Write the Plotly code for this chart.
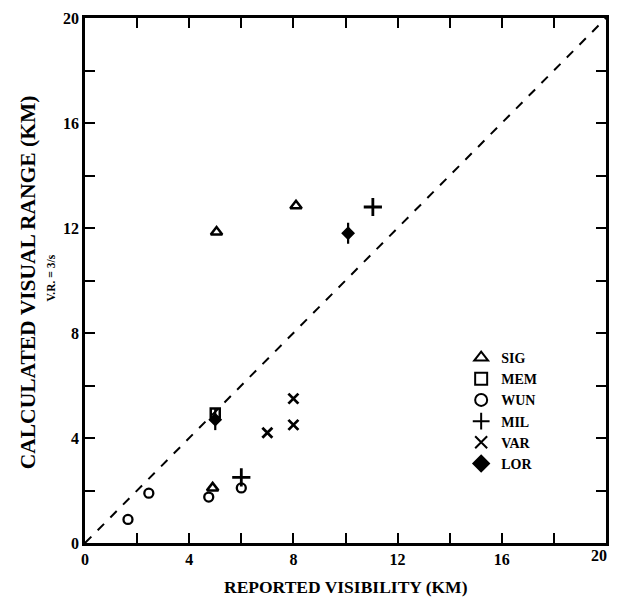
import plotly.graph_objects as go

# Data (reported visibility km, calculated visual range km)
sig_x = [5.05, 8.1, 4.9]
sig_y = [11.85, 12.85, 2.1]
mem_x = [5.0]
mem_y = [4.95]
wun_x = [1.65, 2.45, 4.75, 6.0]
wun_y = [0.9, 1.9, 1.75, 2.1]
mil_x = [11.05, 6.0]
mil_y = [12.8, 2.5]
var_x = [8.0, 8.0, 7.0]
var_y = [5.5, 4.5, 4.2]
lor_x = [10.1, 5.0]
lor_y = [11.8, 4.7]

ref_line = [0, 20]
tick_vals = [0, 2, 4, 6, 8, 10, 12, 14, 16, 18, 20]
tick_text = ["0", "", "4", "", "8", "", "12", "", "16", "", "20"]

serif = "Liberation Serif"
fig = go.Figure()

fig.add_trace(go.Scatter(x=ref_line, y=ref_line, mode="lines",
                         line=dict(color="black", width=2, dash="dash"),
                         showlegend=False, hoverinfo="skip", cliponaxis=False))

def add(name, xs, ys, symbol, size=9, lw=2.2, show=True):
    fig.add_trace(go.Scatter(x=xs, y=ys, mode="markers", name=name,
                             showlegend=show,
                             marker=dict(symbol=symbol, size=size, color="black",
                                         line=dict(color="black", width=lw))))

add("SIG", sig_x, sig_y, "triangle-up-open", size=10, lw=2.5)
add("MEM", mem_x, mem_y, "square-open", size=9, lw=2.5)
add("WUN", wun_x, wun_y, "circle-open", size=9, lw=2.3)
add("MIL", mil_x, mil_y, "cross-thin-open", size=13, lw=2.8)
add("VAR", var_x, var_y, "x-thin-open", size=10, lw=2.8)
# LOR: small head on a stem
add("LOR_stem", lor_x, lor_y, "line-ns-open", size=15, lw=2.2, show=False)
add("LOR", lor_x, lor_y, "diamond", size=9, lw=1.5)

axis_common = dict(range=[0, 20], tickvals=tick_vals, ticktext=tick_text,
                   ticks="inside", ticklen=10, tickwidth=2, tickcolor="black",
                   showline=True, linecolor="black", linewidth=2.5,
                   mirror="ticks", showgrid=False, zeroline=False,
                   tickfont=dict(family=serif, size=16, color="black", weight="bold"))

fig.update_layout(
    width=601, height=590,
    margin=dict(l=77, r=0, t=10, b=55),
    paper_bgcolor="white", plot_bgcolor="white",
    xaxis=dict(**axis_common),
    yaxis=dict(**axis_common),
    legend=dict(x=0.722, y=0.383, xanchor="left", yanchor="top",
                bgcolor="rgba(0,0,0,0)", tracegroupgap=0,
                font=dict(family=serif, size=14, color="black", weight="bold"),
                itemsizing="constant"),
    showlegend=True,
)

# Right-most x tick label (would otherwise be dropped at the page edge)
fig.add_annotation(text=tick_text[-1], xref="x", yref="paper",
                   x=tick_vals[-1], y=0, yanchor="top", xanchor="right",
                   xshift=3, yshift=-2, showarrow=False,
                   font=dict(family=serif, size=16, color="black", weight="bold"))

fig.add_annotation(text="REPORTED VISIBILITY (KM)", xref="paper", yref="paper",
                   x=0.5, y=-0.083, showarrow=False, yanchor="middle",
                   font=dict(family=serif, size=17.5, color="black", weight="bold"))
fig.add_annotation(text="CALCULATED VISUAL RANGE (KM)", xref="paper", yref="paper",
                   x=-0.109, y=0.497, showarrow=False, textangle=-90,
                   xanchor="center", yanchor="middle",
                   font=dict(family=serif, size=21.5, color="black", weight="bold"))
fig.add_annotation(text="V.R. = 3/s", xref="paper", yref="paper",
                   x=-0.066, y=0.505, showarrow=False, textangle=-90,
                   xanchor="center", yanchor="middle",
                   font=dict(family=serif, size=11.5, color="black", weight="bold"))

fig.write_html("out.html")
